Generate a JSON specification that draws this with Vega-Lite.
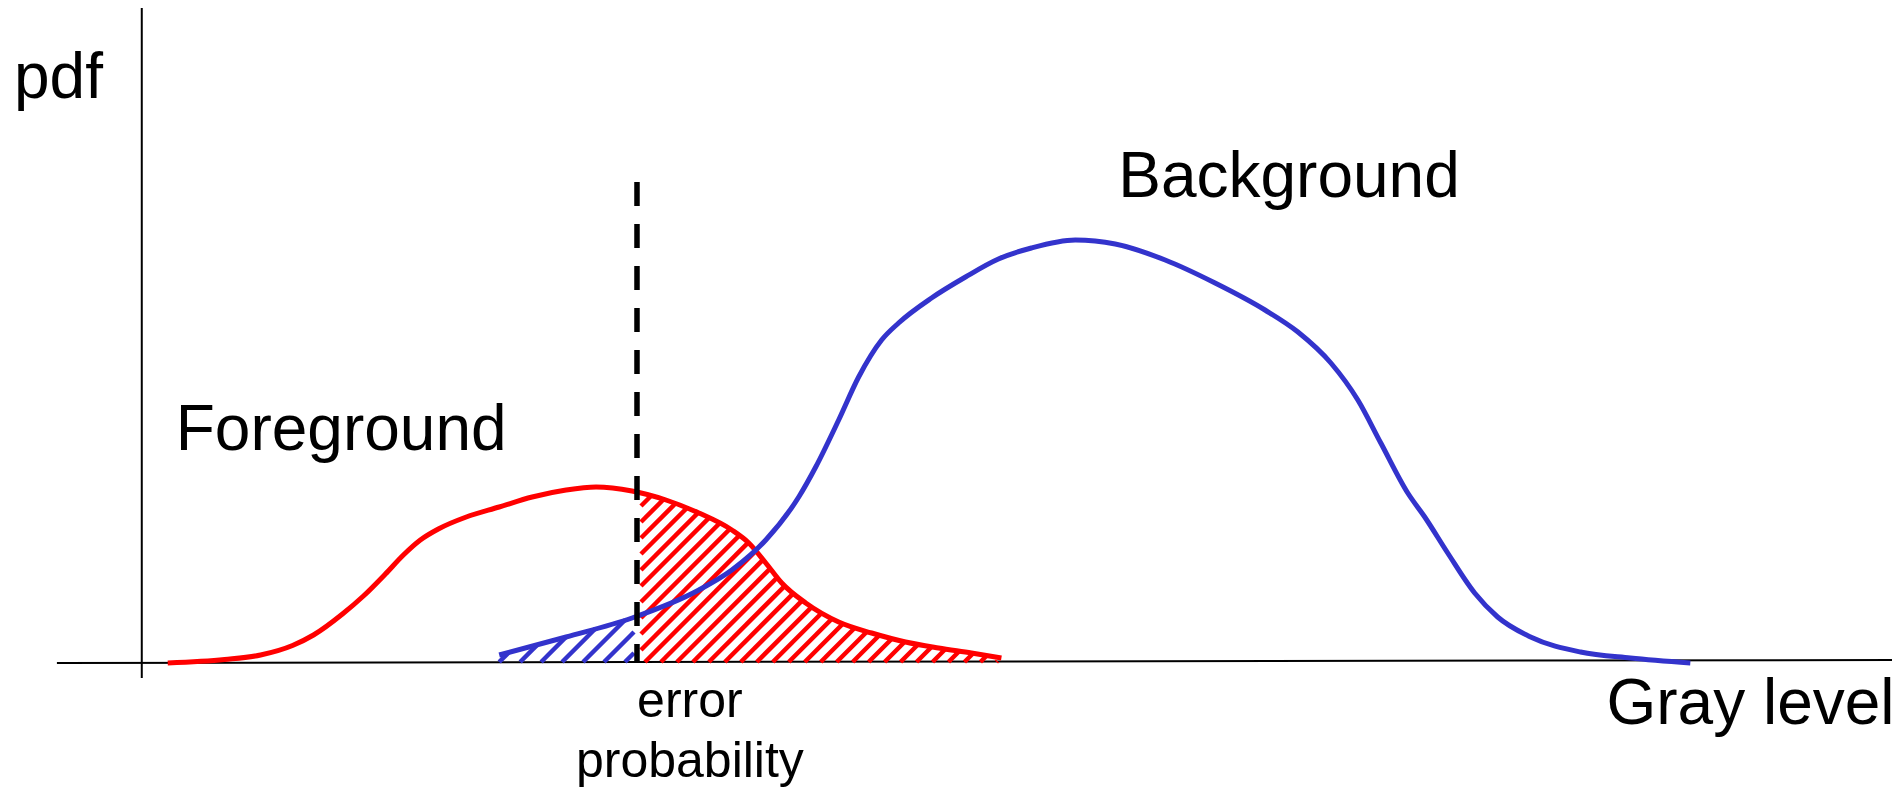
{
  "$schema": "https://vega.github.io/schema/vega-lite/v6.json",
  "width": 1895,
  "height": 789,
  "padding": 0,
  "autosize": {"type": "fit", "contains": "padding"},
  "background": "white",
  "view": {"stroke": null},
  "config": {"text": {"font": "Liberation Sans"}},
  "datasets": {
    "axes": [
      {"x": -17, "y": -0.2, "x2": 350.6, "y2": 0.4},
      {"x": 0, "y": 130.8, "x2": 0, "y2": -3.2}
    ],
    "threshold": [{"x": 99.2, "y": 96, "y2": 0}],
    "foreground": [
      {"x": 5.2, "y": -0.2}, {"x": 16.6, "y": 0.5}, {"x": 23.8, "y": 1.4}, {"x": 30.2, "y": 3.3},
      {"x": 34.4, "y": 5.4}, {"x": 40.2, "y": 9.6}, {"x": 44.4, "y": 13.2}, {"x": 48.8, "y": 17.6},
      {"x": 52.4, "y": 21.4}, {"x": 55.8, "y": 24.4}, {"x": 59.4, "y": 26.6}, {"x": 65.0, "y": 29.0},
      {"x": 71.6, "y": 31.0}, {"x": 78.2, "y": 33.0}, {"x": 85.0, "y": 34.4}, {"x": 91.0, "y": 35.0},
      {"x": 98.2, "y": 34.2}, {"x": 105.0, "y": 32.4}, {"x": 111.6, "y": 29.8}, {"x": 118.2, "y": 26.4},
      {"x": 121.6, "y": 23.8}, {"x": 125.0, "y": 19.8}, {"x": 128.2, "y": 15.8}, {"x": 133.0, "y": 11.8},
      {"x": 139.6, "y": 8.0}, {"x": 146.2, "y": 5.8}, {"x": 153.0, "y": 4.0}, {"x": 159.6, "y": 2.8},
      {"x": 166.2, "y": 1.8}, {"x": 172.2, "y": 0.8}
    ],
    "background": [
      {"x": 71.6, "y": 1.4}, {"x": 85.0, "y": 5.0}, {"x": 98.2, "y": 8.8}, {"x": 111.6, "y": 14.4},
      {"x": 118.2, "y": 18.4}, {"x": 125.0, "y": 24.4}, {"x": 131.6, "y": 33.0}, {"x": 135.0, "y": 39.0},
      {"x": 139.6, "y": 48.4}, {"x": 143.6, "y": 57.0}, {"x": 148.2, "y": 64.4}, {"x": 151.6, "y": 67.8},
      {"x": 158.2, "y": 72.8}, {"x": 165.0, "y": 77.0}, {"x": 171.6, "y": 80.6}, {"x": 178.2, "y": 82.8},
      {"x": 187.0, "y": 84.4}, {"x": 195.0, "y": 83.6}, {"x": 205.0, "y": 80.4}, {"x": 215.0, "y": 75.8},
      {"x": 225.0, "y": 70.4}, {"x": 231.6, "y": 66.0}, {"x": 238.2, "y": 59.8}, {"x": 243.6, "y": 52.4},
      {"x": 248.2, "y": 43.8}, {"x": 253.6, "y": 33.8}, {"x": 257.0, "y": 29.0}, {"x": 261.6, "y": 21.8},
      {"x": 267.0, "y": 13.8}, {"x": 271.6, "y": 9.0}, {"x": 278.2, "y": 5.0}, {"x": 288.2, "y": 2.0},
      {"x": 298.2, "y": 0.8}, {"x": 310.2, "y": -0.2}
    ],
    "hatch": [
      {"g": "fg", "x": 100, "y": 31.2, "x2": 103.4, "y2": 34.6},
      {"g": "fg", "x": 100, "y": 28.0, "x2": 106.6, "y2": 34.6},
      {"g": "fg", "x": 100, "y": 24.8, "x2": 109.8, "y2": 34.6},
      {"g": "fg", "x": 100, "y": 21.6, "x2": 113.0, "y2": 34.6},
      {"g": "fg", "x": 100, "y": 18.4, "x2": 116.2, "y2": 34.6},
      {"g": "fg", "x": 100, "y": 15.2, "x2": 119.4, "y2": 34.6},
      {"g": "fg", "x": 100, "y": 12.0, "x2": 122.6, "y2": 34.6},
      {"g": "fg", "x": 100, "y": 8.8, "x2": 125.8, "y2": 34.6},
      {"g": "fg", "x": 100, "y": 5.6, "x2": 129.0, "y2": 34.6},
      {"g": "fg", "x": 100, "y": 2.4, "x2": 132.2, "y2": 34.6},
      {"g": "fg", "x": 100.8, "y": 0, "x2": 135.4, "y2": 34.6},
      {"g": "fg", "x": 104.0, "y": 0, "x2": 138.6, "y2": 34.6},
      {"g": "fg", "x": 107.2, "y": 0, "x2": 141.8, "y2": 34.6},
      {"g": "fg", "x": 110.4, "y": 0, "x2": 145.0, "y2": 34.6},
      {"g": "fg", "x": 113.6, "y": 0, "x2": 148.2, "y2": 34.6},
      {"g": "fg", "x": 116.8, "y": 0, "x2": 151.4, "y2": 34.6},
      {"g": "fg", "x": 120.0, "y": 0, "x2": 154.6, "y2": 34.6},
      {"g": "fg", "x": 123.2, "y": 0, "x2": 157.8, "y2": 34.6},
      {"g": "fg", "x": 126.4, "y": 0, "x2": 161.0, "y2": 34.6},
      {"g": "fg", "x": 129.6, "y": 0, "x2": 164.2, "y2": 34.6},
      {"g": "fg", "x": 132.8, "y": 0, "x2": 167.4, "y2": 34.6},
      {"g": "fg", "x": 136.0, "y": 0, "x2": 170.6, "y2": 34.6},
      {"g": "fg", "x": 139.2, "y": 0, "x2": 171.4, "y2": 32.2},
      {"g": "fg", "x": 142.4, "y": 0, "x2": 171.4, "y2": 29.0},
      {"g": "fg", "x": 145.6, "y": 0, "x2": 171.4, "y2": 25.8},
      {"g": "fg", "x": 148.8, "y": 0, "x2": 171.4, "y2": 22.6},
      {"g": "fg", "x": 152.0, "y": 0, "x2": 171.4, "y2": 19.4},
      {"g": "fg", "x": 155.2, "y": 0, "x2": 171.4, "y2": 16.2},
      {"g": "fg", "x": 158.4, "y": 0, "x2": 171.4, "y2": 13.0},
      {"g": "fg", "x": 161.6, "y": 0, "x2": 171.4, "y2": 9.8},
      {"g": "fg", "x": 164.8, "y": 0, "x2": 171.4, "y2": 6.6},
      {"g": "fg", "x": 168.0, "y": 0, "x2": 171.4, "y2": 3.4},
      {"g": "fg", "x": 171.2, "y": 0, "x2": 171.4, "y2": 0.2},
      {"g": "bg", "x": 71.6, "y": 0, "x2": 73.51, "y2": 1.91},
      {"g": "bg", "x": 75.8, "y": 0, "x2": 79.26, "y2": 3.46},
      {"g": "bg", "x": 80.0, "y": 0, "x2": 85.0, "y2": 5.0},
      {"g": "bg", "x": 84.2, "y": 0, "x2": 90.9, "y2": 6.7},
      {"g": "bg", "x": 88.4, "y": 0, "x2": 96.8, "y2": 8.4},
      {"g": "bg", "x": 92.6, "y": 0, "x2": 98.6, "y2": 6.0},
      {"g": "bg", "x": 96.8, "y": 0, "x2": 98.6, "y2": 1.8}
    ],
    "labels_big": [
      {"label": "pdf", "x": -25.6, "y": 112.8},
      {"label": "Foreground", "x": 6.8, "y": 42.4},
      {"label": "Background", "x": 195.6, "y": 93},
      {"label": "Gray level", "x": 293.4, "y": -12.4}
    ],
    "labels_small": [
      {"label": "error", "x": 109.8, "y": -11},
      {"label": "probability", "x": 109.8, "y": -23}
    ]
  },
  "layer": [
    {
      "data": {"name": "axes"},
      "mark": {"type": "rule", "color": "black", "strokeWidth": 2},
      "encoding": {
        "x": {"field": "x", "type": "quantitative", "scale": {"domain": [-28.4, 350.6], "nice": false, "zero": false}, "axis": null},
        "y": {"field": "y", "type": "quantitative", "scale": {"domain": [-25.4, 132.4], "nice": false, "zero": false}, "axis": null},
        "x2": {"field": "x2"},
        "y2": {"field": "y2"}
      }
    },
    {
      "data": {"name": "hatch"},
      "mark": {"type": "rule", "strokeWidth": 4.5, "strokeCap": "butt"},
      "encoding": {
        "x": {"field": "x", "type": "quantitative", "scale": {"domain": [-28.4, 350.6], "nice": false, "zero": false}, "axis": null},
        "y": {"field": "y", "type": "quantitative", "scale": {"domain": [-25.4, 132.4], "nice": false, "zero": false}, "axis": null},
        "x2": {"field": "x2"},
        "y2": {"field": "y2"},
        "color": {"field": "g", "type": "nominal", "scale": {"domain": ["fg", "bg"], "range": ["#ff0000", "#3333cc"]}, "legend": null}
      }
    },
    {
      "data": {"name": "foreground"},
      "transform": [{"filter": "datum.x >= 91"}],
      "mark": {"type": "area", "color": "white", "opacity": 1, "interpolate": "monotone"},
      "encoding": {
        "x": {"field": "x", "type": "quantitative", "scale": {"domain": [-28.4, 350.6], "nice": false, "zero": false}, "axis": null},
        "y": {"field": "y", "type": "quantitative", "scale": {"domain": [-25.4, 132.4], "nice": false, "zero": false}, "axis": null},
        "y2": {"datum": 36}
      }
    },
    {
      "data": {"name": "foreground"},
      "mark": {"type": "line", "color": "#ff0000", "strokeWidth": 5, "interpolate": "monotone"},
      "encoding": {
        "x": {"field": "x", "type": "quantitative", "scale": {"domain": [-28.4, 350.6], "nice": false, "zero": false}, "axis": null},
        "y": {"field": "y", "type": "quantitative", "scale": {"domain": [-25.4, 132.4], "nice": false, "zero": false}, "axis": null}
      }
    },
    {
      "data": {"name": "background"},
      "mark": {"type": "line", "color": "#3333cc", "strokeWidth": 5, "interpolate": "monotone"},
      "encoding": {
        "x": {"field": "x", "type": "quantitative", "scale": {"domain": [-28.4, 350.6], "nice": false, "zero": false}, "axis": null},
        "y": {"field": "y", "type": "quantitative", "scale": {"domain": [-25.4, 132.4], "nice": false, "zero": false}, "axis": null}
      }
    },
    {
      "data": {"name": "threshold"},
      "mark": {"type": "rule", "color": "black", "strokeWidth": 5.5, "strokeDash": [24, 18]},
      "encoding": {
        "x": {"field": "x", "type": "quantitative", "scale": {"domain": [-28.4, 350.6], "nice": false, "zero": false}, "axis": null},
        "y": {"field": "y", "type": "quantitative", "scale": {"domain": [-25.4, 132.4], "nice": false, "zero": false}, "axis": null},
        "y2": {"field": "y2"}
      }
    },
    {
      "data": {"name": "labels_big"},
      "mark": {"type": "text", "fontSize": 64, "align": "left", "baseline": "alphabetic", "color": "black"},
      "encoding": {
        "x": {"field": "x", "type": "quantitative", "scale": {"domain": [-28.4, 350.6], "nice": false, "zero": false}, "axis": null},
        "y": {"field": "y", "type": "quantitative", "scale": {"domain": [-25.4, 132.4], "nice": false, "zero": false}, "axis": null},
        "text": {"field": "label"}
      }
    },
    {
      "data": {"name": "labels_small"},
      "mark": {"type": "text", "fontSize": 50, "align": "center", "baseline": "alphabetic", "color": "black"},
      "encoding": {
        "x": {"field": "x", "type": "quantitative", "scale": {"domain": [-28.4, 350.6], "nice": false, "zero": false}, "axis": null},
        "y": {"field": "y", "type": "quantitative", "scale": {"domain": [-25.4, 132.4], "nice": false, "zero": false}, "axis": null},
        "text": {"field": "label"}
      }
    }
  ]
}
